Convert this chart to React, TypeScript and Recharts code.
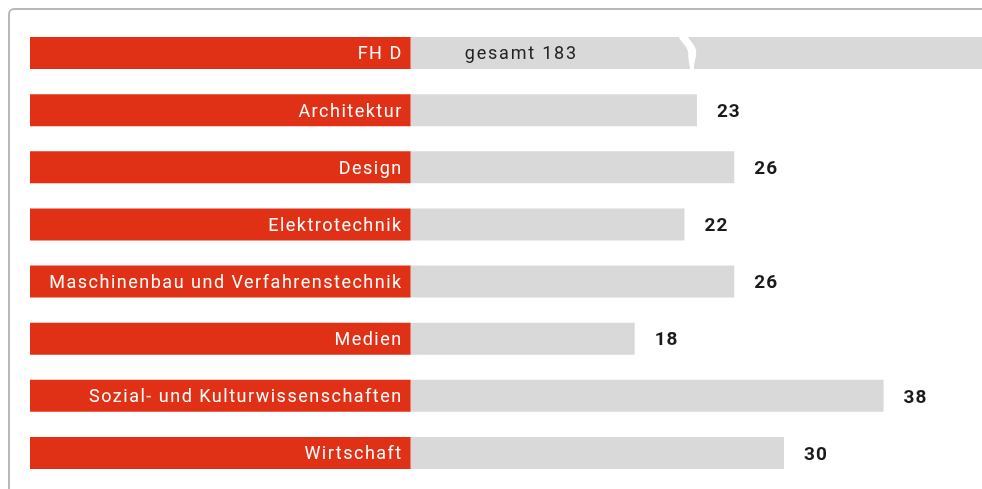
import React from "react";
import { BarChart, Bar, XAxis, YAxis, LabelList, ReferenceArea } from "recharts";

// ---- data ----
const categories = [
  "FH D",
  "Architektur",
  "Design",
  "Elektrotechnik",
  "Maschinenbau und Verfahrenstechnik",
  "Medien",
  "Sozial- und Kulturwissenschaften",
  "Wirtschaft",
];
const values = [183, 23, 26, 22, 26, 18, 38, 30];
const totalLabelPrefix = "gesamt";
// value at which the axis break is drawn on the overflowing "FH D" bar
const BREAK_AT = 22.3;
// x-axis domain; the red name band spans from the domain minimum to 0
const X_DOMAIN: [number, number] = [-30.6, 48];

const RED = "#e03117";
const GREY = "#d9d9d9";
const FONT = "Roboto, 'Noto Sans', sans-serif";

const data = categories.map((name, i) => ({
  name,
  value: values[i],
  band: X_DOMAIN[0],
}));

const CHART_W = 1000;
const CHART_H = 481;
const MARGIN = { top: 16, right: 0, bottom: 8, left: 22 };

const renderName = (props: any) => {
  const { x, y, height, value } = props;
  return (
    <text
      x={Number(x) - 8}
      y={Number(y) + Number(height) / 2}
      dy="0.36em"
      textAnchor="end"
      fill="#ffffff"
      fontFamily={FONT}
      fontSize={18}
      letterSpacing={1.5}
    >
      {value}
    </text>
  );
};

const renderValue = (props: any) => {
  const { x, y, width, height, value, index } = props;
  const cy = Number(y) + Number(height) / 2;
  if (index === 0) {
    return (
      <text
        x={Number(x) + 54}
        y={cy}
        dy="0.36em"
        fill="#222222"
        fontFamily={FONT}
        fontSize={18}
        letterSpacing={1.8}
      >
        {`${totalLabelPrefix} ${value}`}
      </text>
    );
  }
  return (
    <text
      x={Number(x) + Number(width) + 20}
      y={cy}
      dy="0.36em"
      fill="#1a1a1a"
      fontFamily={FONT}
      fontSize={19}
      fontWeight={700}
      letterSpacing={1}
    >
      {value}
    </text>
  );
};

// filled white "S" cut marking the broken (overflowing) bar
const BreakShape = (props: any) => {
  const { x, y, width, height } = props;
  const cx = Number(x) + Number(width) / 2;
  const cy = Number(y) + Number(height) / 2;
  const p = (dx: number, dy: number) => `${cx + dx} ${cy + dy}`;
  const d =
    `M ${p(-1, -17)} ` +
    `C ${p(2, -11)}, ${p(8, -7)}, ${p(8, 0)} ` +
    `C ${p(8, 7)}, ${p(5, 11)}, ${p(6, 17)} ` +
    `L ${p(2, 17)} ` +
    `C ${p(1, 11)}, ${p(0, 7)}, ${p(0, 0)} ` +
    `C ${p(-1, -7)}, ${p(-8, -11)}, ${p(-10, -17)} Z`;
  return <path d={d} fill="#ffffff" stroke="none" />;
};

export default function App() {
  return (
    <div
      style={{
        position: "fixed",
        left: 8,
        top: 8,
        width: 974,
        height: 481,
        overflow: "hidden",
      }}
    >
      <div
        style={{
          position: "absolute",
          left: 0,
          top: 0,
          width: 1200,
          height: 700,
          border: "2px solid #b9b9b9",
          borderRadius: 6,
          boxSizing: "border-box",
        }}
      />
      <div style={{ position: "absolute", left: 0, top: 0 }}>
        <BarChart
          layout="vertical"
          width={CHART_W}
          height={CHART_H}
          data={data}
          margin={MARGIN}
          stackOffset="sign"
          barSize={32}
        >
          <XAxis type="number" domain={X_DOMAIN} hide allowDataOverflow />
          <YAxis type="category" dataKey="name" hide />
          <Bar dataKey="band" stackId="s" fill={RED} isAnimationActive={false} />
          <Bar dataKey="value" stackId="s" fill={GREY} isAnimationActive={false}>
            <LabelList dataKey="name" content={renderName} />
            <LabelList dataKey="value" content={renderValue} />
          </Bar>
        </BarChart>
      </div>
      {/* overlay chart with identical scales, used only to draw the axis break on top */}
      <div style={{ position: "absolute", left: 0, top: 0, pointerEvents: "none" }}>
        <BarChart
          layout="vertical"
          width={CHART_W}
          height={CHART_H}
          data={data}
          margin={MARGIN}
          stackOffset="sign"
          barSize={32}
        >
          <XAxis type="number" domain={X_DOMAIN} hide allowDataOverflow />
          <YAxis type="category" dataKey="name" hide />
          <ReferenceArea
            x1={BREAK_AT - 1}
            x2={BREAK_AT + 1}
            y1={categories[0]}
            y2={categories[0]}
            shape={BreakShape}
            ifOverflow="visible"
          />
        </BarChart>
      </div>
    </div>
  );
}
